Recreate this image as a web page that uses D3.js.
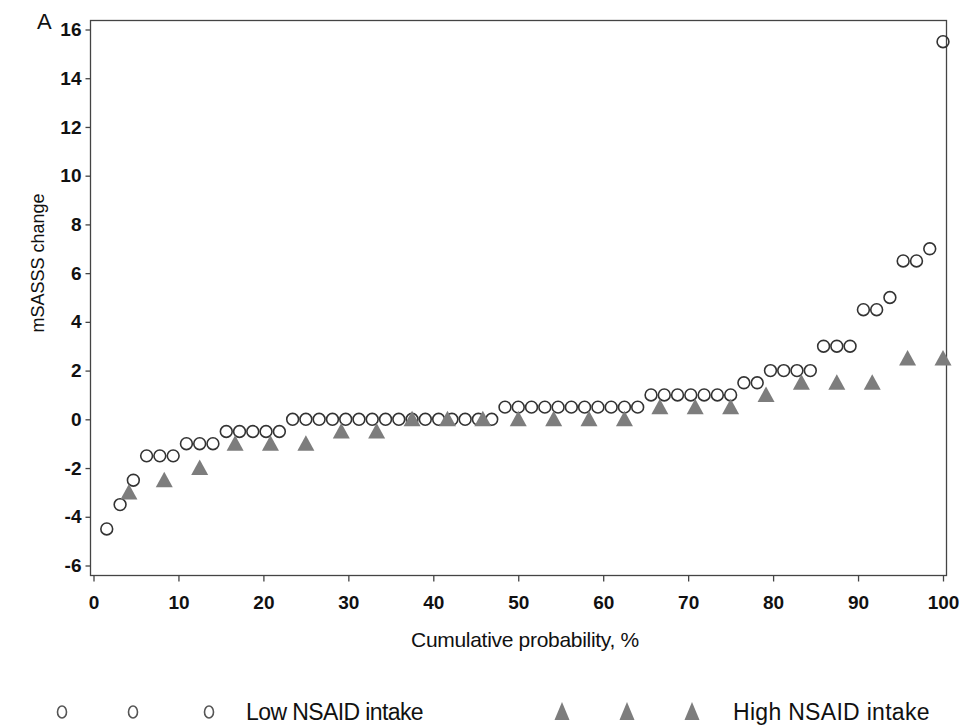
<!DOCTYPE html>
<html>
<head>
<meta charset="utf-8">
<script src="https://cdn.jsdelivr.net/npm/d3@7"></script>
<style>
  html, body { margin: 0; padding: 0; background: #fff; }
  svg { display: block; }
  text { font-family: "Liberation Sans", Arial, sans-serif; fill: #111; }
</style>
</head>
<body>
<svg id="chart" width="961" height="727"></svg>
<script>
// ---- Data ----
const lowProb = [1.56, 3.13, 4.69, 6.25, 7.81, 9.38, 10.94, 12.5, 14.06, 15.63, 17.19, 18.75, 20.31, 21.88, 23.44, 25,
  26.56, 28.13, 29.69, 31.25, 32.81, 34.38, 35.94, 37.5, 39.06, 40.63, 42.19, 43.75, 45.31, 46.88, 48.44, 50,
  51.56, 53.13, 54.69, 56.25, 57.81, 59.38, 60.94, 62.5, 64.06, 65.63, 67.19, 68.75, 70.31, 71.88, 73.44, 75,
  76.56, 78.13, 79.69, 81.25, 82.81, 84.38, 85.94, 87.5, 89.06, 90.63, 92.19, 93.75, 95.31, 96.88, 98.44, 100];
const lowChange = [-4.5, -3.5, -2.5, -1.5, -1.5, -1.5, -1, -1, -1, -0.5, -0.5, -0.5, -0.5, -0.5, 0, 0,
  0, 0, 0, 0, 0, 0, 0, 0, 0, 0, 0, 0, 0, 0, 0.5, 0.5,
  0.5, 0.5, 0.5, 0.5, 0.5, 0.5, 0.5, 0.5, 0.5, 1, 1, 1, 1, 1, 1, 1,
  1.5, 1.5, 2, 2, 2, 2, 3, 3, 3, 4.5, 4.5, 5, 6.5, 6.5, 7, 15.5];

const highProb = [4.17, 8.33, 12.5, 16.67, 20.83, 25, 29.17, 33.33, 37.5, 41.67, 45.83, 50,
  54.17, 58.33, 62.5, 66.67, 70.83, 75, 79.17, 83.33, 87.5, 91.67, 95.83, 100];
const highChange = [-3, -2.5, -2, -1, -1, -1, -0.5, -0.5, 0, 0, 0, 0,
  0, 0, 0, 0.5, 0.5, 0.5, 1, 1.5, 1.5, 1.5, 2.5, 2.5];

const xTicks = [0, 10, 20, 30, 40, 50, 60, 70, 80, 90, 100];
const yTicks = [-6, -4, -2, 0, 2, 4, 6, 8, 10, 12, 14, 16];
const seriesNames = ["Low NSAID intake", "High NSAID intake"];

// ---- Layout ----
const svg = d3.select("#chart");
const frame = { left: 90.5, right: 946.5, top: 20.5, bottom: 575.5 };

const x = d3.scaleLinear().domain([0, 100]).range([93.5, 943]);
const y = d3.scaleLinear().domain([-6, 16]).range([565.5, 29.5]);

// frame
svg.append("rect")
  .attr("x", frame.left).attr("y", frame.top)
  .attr("width", frame.right - frame.left).attr("height", frame.bottom - frame.top)
  .attr("fill", "none").attr("stroke", "#444").attr("stroke-width", 1.3);

const fmt = d => String(d);

// y axis
const yAxis = d3.axisLeft(y).tickValues(yTicks).tickSize(5).tickPadding(4).tickFormat(fmt);
const gy = svg.append("g").attr("transform", `translate(${frame.left},0)`).call(yAxis);
gy.attr("font-size", 19);
gy.select(".domain").remove();
gy.selectAll(".tick line").attr("stroke", "#444").attr("stroke-width", 1.3);
gy.selectAll(".tick text").attr("font-size", 19).attr("font-weight", "bold")
  .attr("fill", "#111").style("font-family", "'Liberation Sans', Arial, sans-serif");

// x axis
const xAxis = d3.axisBottom(x).tickValues(xTicks).tickSize(6).tickPadding(14).tickFormat(fmt);
const gx = svg.append("g").attr("transform", `translate(0,${frame.bottom})`).call(xAxis);
gx.attr("font-size", 19);
gx.select(".domain").remove();
gx.selectAll(".tick line").attr("stroke", "#444").attr("stroke-width", 1.3);
gx.selectAll(".tick text").attr("font-size", 19).attr("font-weight", "bold")
  .attr("fill", "#111").style("font-family", "'Liberation Sans', Arial, sans-serif");

// labels
svg.append("text").attr("x", 37).attr("y", 29).attr("font-size", 22).text("A");
svg.append("text")
  .attr("transform", `translate(44,${263}) rotate(-90)`)
  .attr("text-anchor", "middle").attr("font-size", 18)
  .text("mSASSS change");
svg.append("text")
  .attr("x", 525).attr("y", 647).attr("text-anchor", "middle").attr("font-size", 21)
  .attr("letter-spacing", -0.3)
  .text("Cumulative probability, %");

// triangle path helper
function tri(cx, cy, hw, up, down) {
  return `M${cx},${cy - up}L${cx + hw},${cy + down}L${cx - hw},${cy + down}Z`;
}

// low series circles
const lowData = lowProb.map((p, i) => ({ p, v: lowChange[i] }));
svg.append("g").selectAll("circle").data(lowData).join("circle")
  .attr("cx", d => x(d.p)).attr("cy", d => y(d.v)).attr("r", 5.9)
  .attr("fill", "none").attr("stroke", "#333").attr("stroke-width", 1.6);

// high series triangles
const highData = highProb.map((p, i) => ({ p, v: highChange[i] }));
svg.append("g").selectAll("path").data(highData).join("path")
  .attr("d", d => tri(x(d.p), y(d.v), 8.5, 8.5, 7))
  .attr("fill", "#7d7d7d").attr("stroke", "none");

// legend
const legY = 712;
const legCircleX = [62, 133, 209];
const legTriX = [562, 627, 692];
svg.append("g").selectAll("ellipse").data(legCircleX).join("ellipse")
  .attr("cx", d => d).attr("cy", legY).attr("rx", 4.5).attr("ry", 6)
  .attr("fill", "none").attr("stroke", "#555").attr("stroke-width", 1.6);
svg.append("text").attr("x", 246).attr("y", 720).attr("font-size", 23).attr("letter-spacing", -0.6)
  .text(seriesNames[0]);
svg.append("g").selectAll("path").data(legTriX).join("path")
  .attr("d", d => tri(d, legY, 7.5, 10, 8))
  .attr("fill", "#7d7d7d");
svg.append("text").attr("x", 733).attr("y", 720).attr("font-size", 23).attr("letter-spacing", 0.3)
  .text(seriesNames[1]);
</script>
</body>
</html>
